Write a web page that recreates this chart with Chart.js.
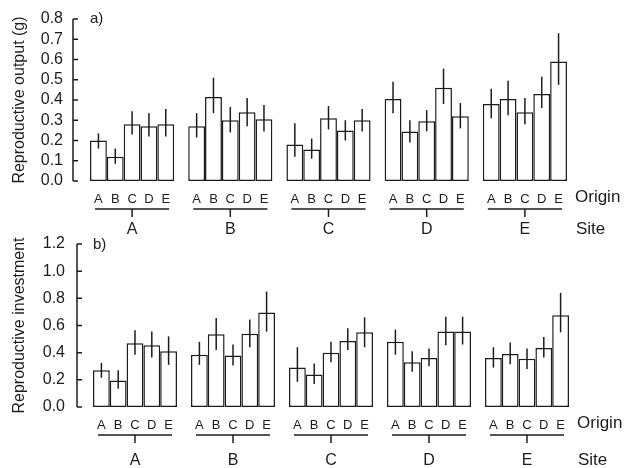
<!DOCTYPE html>
<html>
<head>
<meta charset="utf-8">
<script src="https://cdn.jsdelivr.net/npm/chart.js@4"></script>
<style>
  html, body { margin: 0; padding: 0; background: #fff; }
  #wrap { position: relative; width: 625px; height: 468px; overflow: hidden; }
  canvas { position: absolute; left: 0; }
</style>
</head>
<body>
<div id="wrap">
  <canvas id="chartA" width="625" height="240" style="top:0"></canvas>
  <canvas id="chartB" width="625" height="236" style="top:232px"></canvas>
</div>
<script>
// === DATA ===
var sites = ['A', 'B', 'C', 'D', 'E'];
var origins = ['A', 'B', 'C', 'D', 'E'];

// a) reproductive output (g): one row per site, columns = origin A..E
var outputMean = [
  [0.20, 0.12, 0.28, 0.27, 0.28],
  [0.27, 0.415, 0.30, 0.34, 0.305],
  [0.18, 0.155, 0.31, 0.25, 0.30],
  [0.405, 0.245, 0.295, 0.46, 0.32],
  [0.38, 0.405, 0.34, 0.43, 0.59]
];
var outputLow = [
  [0.16, 0.085, 0.23, 0.22, 0.22],
  [0.215, 0.335, 0.24, 0.27, 0.245],
  [0.12, 0.11, 0.255, 0.20, 0.245],
  [0.335, 0.19, 0.245, 0.38, 0.26],
  [0.31, 0.325, 0.28, 0.36, 0.475]
];
var outputHigh = [
  [0.235, 0.16, 0.345, 0.335, 0.355],
  [0.335, 0.51, 0.365, 0.41, 0.375],
  [0.285, 0.21, 0.37, 0.30, 0.355],
  [0.49, 0.30, 0.35, 0.555, 0.385],
  [0.455, 0.495, 0.41, 0.515, 0.73]
];

// b) reproductive investment
var investMean = [
  [0.27, 0.195, 0.47, 0.455, 0.41],
  [0.385, 0.535, 0.38, 0.54, 0.695],
  [0.29, 0.24, 0.40, 0.485, 0.55],
  [0.48, 0.33, 0.36, 0.555, 0.555],
  [0.36, 0.39, 0.355, 0.435, 0.675]
];
var investLow = [
  [0.215, 0.135, 0.385, 0.365, 0.31],
  [0.31, 0.42, 0.305, 0.44, 0.555],
  [0.185, 0.17, 0.33, 0.42, 0.44],
  [0.385, 0.26, 0.30, 0.455, 0.46],
  [0.29, 0.315, 0.28, 0.365, 0.55]
];
var investHigh = [
  [0.325, 0.27, 0.565, 0.555, 0.52],
  [0.48, 0.655, 0.46, 0.645, 0.85],
  [0.44, 0.32, 0.48, 0.58, 0.66],
  [0.57, 0.41, 0.43, 0.665, 0.665],
  [0.44, 0.475, 0.43, 0.515, 0.84]
];

var INK = '#1c1c1c';
var FONT = '"Liberation Sans", Arial, sans-serif';

// one dataset per origin, indexed by site
function buildDatasets(mean, low, high) {
  return origins.map(function(o, k) {
    return {
      label: o,
      data: mean.map(function(r) { return r[k]; }),
      lo: low.map(function(r) { return r[k]; }),
      hi: high.map(function(r) { return r[k]; }),
      backgroundColor: '#fff', borderColor: INK, borderWidth: 1.5, borderSkipped: false,
      categoryPercentage: 0.857, barPercentage: 1
    };
  });
}

// error bars, y axis set off from the bars, origin letters + brackets, captions
var panelDecor = {
  id: 'panelDecor',
  afterDraw: function(chart, args, o) {
    var ctx = chart.ctx, a = chart.chartArea, ys = chart.scales.y, xs = chart.scales.x;
    var sets = chart.data.datasets;
    ctx.save();
    ctx.strokeStyle = INK; ctx.fillStyle = INK; ctx.lineWidth = 1.5;

    sets.forEach(function(ds, di) {
      chart.getDatasetMeta(di).data.forEach(function(bar, i) {
        ctx.beginPath();
        ctx.moveTo(bar.x, ys.getPixelForValue(ds.lo[i]));
        ctx.lineTo(bar.x, ys.getPixelForValue(ds.hi[i]));
        ctx.stroke();
      });
    });

    // y axis sits left of the first group, ticks point inward
    var ax = a.left - o.axisGap;
    ctx.beginPath();
    ctx.moveTo(ax, ys.top); ctx.lineTo(ax, ys.bottom);
    ys.ticks.forEach(function(t) {
      var py = ys.getPixelForValue(t.value);
      ctx.moveTo(ax, py); ctx.lineTo(ax + 5, py);
    });
    ctx.stroke();

    ctx.textBaseline = 'middle';
    ctx.textAlign = 'left';
    ctx.font = '15px ' + FONT;
    ctx.fillText(o.letter, a.left + 7, a.top + o.letterDy);

    ctx.textAlign = 'center';
    ctx.font = '13px ' + FONT;
    sets.forEach(function(ds, di) {
      chart.getDatasetMeta(di).data.forEach(function(bar) {
        ctx.fillText(ds.label, bar.x, a.bottom + 18);
      });
    });

    var first = chart.getDatasetMeta(0).data;
    var last = chart.getDatasetMeta(sets.length - 1).data;
    ctx.beginPath();
    first.forEach(function(bar, i) {
      var x0 = bar.x - bar.width / 2 + 5;
      var x1 = last[i].x + last[i].width / 2 - 5;
      var cx = xs.getPixelForValue(i);
      ctx.moveTo(x0, a.bottom + 28); ctx.lineTo(x1, a.bottom + 28);
      ctx.moveTo(cx, a.bottom + 28); ctx.lineTo(cx, a.bottom + 36);
    });
    ctx.stroke();

    ctx.textAlign = 'left';
    ctx.font = '17px ' + FONT;
    ctx.fillText('Origin', a.right + 1, a.bottom + 16);
    ctx.fillText('Site', a.right + 2, a.bottom + o.sitePad + 9.6);
    ctx.restore();
  }
};

function makePanel(canvasId, datasets, p) {
  return new Chart(document.getElementById(canvasId).getContext('2d'), {
    type: 'bar',
    data: { labels: sites, datasets: datasets },
    plugins: [panelDecor],
    options: {
      responsive: false, animation: false,
      layout: { padding: { top: p.top, right: p.right, bottom: 0, left: 0 } },
      plugins: {
        legend: { display: false },
        tooltip: { enabled: false },
        panelDecor: { letter: p.letter, letterDy: p.letterDy, axisGap: p.axisGap, sitePad: p.sitePad }
      },
      scales: {
        x: {
          grid: { display: false, drawTicks: false }, border: { display: false },
          ticks: { color: INK, font: { size: 16, family: FONT }, padding: p.sitePad },
          afterFit: function(s) { s.height = p.xHeight; }
        },
        y: {
          min: 0, max: p.max,
          grid: { display: false, drawTicks: false }, border: { display: false },
          ticks: {
            stepSize: p.step, autoSkip: false, padding: p.tickPad, color: INK,
            font: { size: 16, family: FONT },
            callback: function(v) { return v.toFixed(1); }
          },
          title: {
            display: true, text: p.title, color: INK,
            font: { size: 16, family: FONT }, padding: { top: 10, bottom: 0 }
          },
          // fixed width; tick padding would otherwise push the plot top down
          afterFit: function(s) { s.width = p.left; s.paddingTop = 0; s.paddingBottom = 0; }
        }
      }
    }
  });
}

makePanel('chartA', buildDatasets(outputMean, outputLow, outputHigh), {
  letter: 'a)', letterDy: 0, title: 'Reproductive output (g)', max: 0.8, step: 0.1,
  top: 19, right: 51, left: 83, xHeight: 59, axisGap: 10, tickPad: 20, sitePad: 39
});

makePanel('chartB', buildDatasets(investMean, investLow, investHigh), {
  letter: 'b)', letterDy: 1, title: 'Reproductive investment', max: 1.2, step: 0.2,
  top: 12, right: 49, left: 86, xHeight: 61, axisGap: 9, tickPad: 21, sitePad: 44
});
</script>
</body>
</html>
